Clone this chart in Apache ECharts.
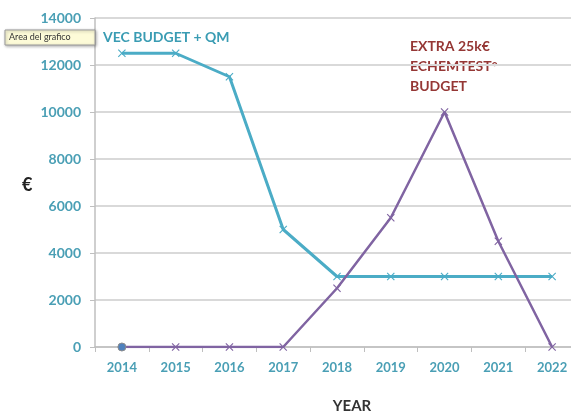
<!DOCTYPE html>
<html>
<head>
<meta charset="utf-8">
<script src="https://cdn.jsdelivr.net/npm/echarts@6/dist/echarts.min.js"></script>
<style>
  body, html { margin: 0; padding: 0; background: #ffffff; }
  #chart { width: 571px; height: 412px; }
</style>
</head>
<body>
<div id="chart"></div>
<script>
  // chart data
  const years = ["2014", "2015", "2016", "2017", "2018", "2019", "2020", "2021", "2022"];
  const vecBudget = [12500, 12500, 11500, 5000, 3000, 3000, 3000, 3000, 3000];
  const extraBudget = [0, 0, 0, 0, 2500, 5500, 10000, 4500, 0];
  const yTicks = [0, 2000, 4000, 6000, 8000, 10000, 12000, 14000];

  const teal = "#4bacc6";
  const purple = "#8064a2";
  const crossPath = "path://M0,1L1,0L5,4L9,0L10,1L6,5L10,9L9,10L5,6L1,10L0,9L4,5Z";

  let chart = echarts.init(document.getElementById("chart"));
  let option = {
    backgroundColor: "#ffffff",
    animation: false,
    grid: { left: 95, right: -8, top: 18, bottom: 65, outerBoundsMode: "none", containLabel: false },
    xAxis: {
      type: "category",
      data: years,
      boundaryGap: true,
      axisLine: { lineStyle: { color: "#bfbfbf", width: 1.5 } },
      axisTick: { show: true, length: 5, lineStyle: { color: "#bfbfbf" } },
      axisLabel: {
        color: "#4a9fb5", fontFamily: "Lato", fontWeight: "bold", fontSize: 13, margin: 14
      },
      name: "YEAR",
      nameLocation: "middle",
      nameGap: 52,
      nameTextStyle: { color: "#333333", fontFamily: "Lato", fontWeight: "bold", fontSize: 15, padding: [0, 0, 0, 30] }
    },
    yAxis: {
      type: "value",
      min: yTicks[0],
      max: yTicks[yTicks.length - 1],
      interval: 2000,
      axisLine: { show: true, lineStyle: { color: "#bfbfbf", width: 1.5 } },
      axisTick: { show: true, length: 5, lineStyle: { color: "#bfbfbf" } },
      axisLabel: {
        color: "#4a9fb5", fontFamily: "Lato", fontWeight: "bold", fontSize: 14, margin: 14,
        formatter: (v) => String(v)
      },
      splitLine: { lineStyle: { color: "#d9d9d9", width: 2 } }
    },
    series: [
      {
        name: "VEC BUDGET + QM",
        type: "line",
        data: vecBudget,
        symbol: crossPath,
        symbolSize: 8,
        lineStyle: { color: teal, width: 3 },
        itemStyle: { color: teal }
      },
      {
        name: "EXTRA 25k€ ECHEMTEST° BUDGET",
        type: "line",
        data: extraBudget.map((v, i) => i === 0
          ? { value: v, symbol: "circle", symbolSize: 8, itemStyle: { color: "#4f81bd", borderColor: "#8c8c8c", borderWidth: 1 } }
          : v),
        symbol: crossPath,
        symbolSize: 8,
        lineStyle: { color: purple, width: 2.5 },
        itemStyle: { color: purple },
        z: 3
      }
    ],
    graphic: [
      {
        type: "text", left: 103, top: 30,
        style: { text: "VEC BUDGET + QM", fill: "#3a9cb3", font: "bold 14px Lato" }
      },
      {
        type: "text", left: 410, top: 36,
        style: {
          text: "EXTRA 25k€\nECHEMTEST°\nBUDGET",
          fill: "#953735", font: "bold 14px Lato", lineHeight: 20
        }
      },
      {
        type: "text", left: 22, top: 176,
        style: { text: "€", fill: "#222222", font: "bold 18px Lato" }
      },
      {
        type: "rect", shape: { x: 5, y: 30, width: 90, height: 15 },
        style: { fill: "#fdfbd8", stroke: "#9a9a9a", lineWidth: 1, shadowBlur: 3, shadowColor: "rgba(0,0,0,0.3)", shadowOffsetX: 1, shadowOffsetY: 1 },
        z: 10
      },
      {
        type: "text", left: 9, top: 33,
        style: { text: "Area del grafico", fill: "#333333", font: "9px Lato" },
        z: 11
      }
    ]
  };
  chart.setOption(option);
</script>
</body>
</html>
